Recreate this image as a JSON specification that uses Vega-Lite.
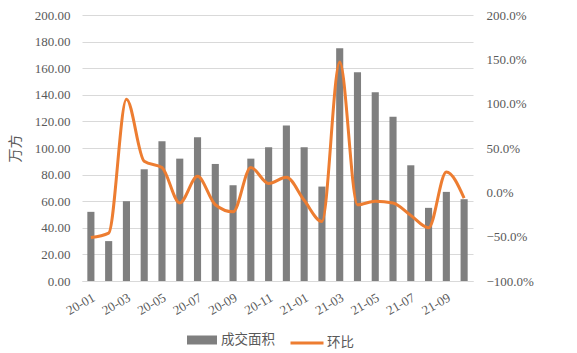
{
  "$schema": "https://vega.github.io/schema/vega-lite/v6.json",
  "width": 391,
  "height": 266,
  "autosize": {"type": "none"},
  "padding": {"left": 82, "top": 15, "right": 104, "bottom": 72},
  "background": "white",
  "config": {
    "view": {"stroke": null},
    "axis": {
      "labelFont": "Liberation Serif",
      "labelFontSize": 13,
      "labelColor": "#595959",
      "titleFont": "Noto Sans CJK SC",
      "titleFontWeight": "normal",
      "titleColor": "#595959",
      "domain": false,
      "ticks": false
    },
    "legend": {
      "labelFont": "Noto Sans CJK SC",
      "labelFontSize": 13.5,
      "labelColor": "#595959",
      "padding": 0,
      "orient": "none",
      "title": null
    }
  },
  "data": {
    "values": [
      {"month": "20-01", "area": 52, "mom": -0.51},
      {"month": "20-02", "area": 30, "mom": -0.46},
      {"month": "20-03", "area": 60, "mom": 1.05},
      {"month": "20-04", "area": 84, "mom": 0.35},
      {"month": "20-05", "area": 105, "mom": 0.28},
      {"month": "20-06", "area": 92, "mom": -0.12},
      {"month": "20-07", "area": 108, "mom": 0.18},
      {"month": "20-08", "area": 88, "mom": -0.14},
      {"month": "20-09", "area": 72, "mom": -0.22},
      {"month": "20-10", "area": 92, "mom": 0.28},
      {"month": "20-11", "area": 100.5, "mom": 0.1},
      {"month": "20-12", "area": 117, "mom": 0.17},
      {"month": "21-01", "area": 100.5, "mom": -0.09},
      {"month": "21-02", "area": 71, "mom": -0.33},
      {"month": "21-03", "area": 175, "mom": 1.47},
      {"month": "21-04", "area": 157, "mom": -0.14},
      {"month": "21-05", "area": 142, "mom": -0.1},
      {"month": "21-06", "area": 123.5, "mom": -0.12},
      {"month": "21-07", "area": 87, "mom": -0.26},
      {"month": "21-08", "area": 55, "mom": -0.4},
      {"month": "21-09", "area": 67, "mom": 0.23},
      {"month": "21-10", "area": 61.5, "mom": -0.065}
    ]
  },
  "layer": [
    {
      "mark": {"type": "bar", "color": "#7f7f7f"},
      "encoding": {
        "x": {
          "field": "month",
          "type": "ordinal",
          "sort": null,
          "scale": {"paddingInner": 0.6, "paddingOuter": 0.3},
          "axis": {
            "title": null,
            "values": ["20-01", "20-03", "20-05", "20-07", "20-09", "20-11", "21-01", "21-03", "21-05", "21-07", "21-09"],
            "labelAngle": -30,
            "labelAlign": "right",
            "labelBaseline": "top",
            "labelPadding": 10,
            "domain": true,
            "domainColor": "#d9d9d9"
          }
        },
        "y": {
          "field": "area",
          "type": "quantitative",
          "scale": {"domain": [0, 200], "nice": false},
          "axis": {
            "title": "万方",
            "titleFontSize": 14,
            "titlePadding": 12,
            "values": [0, 20, 40, 60, 80, 100, 120, 140, 160, 180, 200],
            "format": ".2f",
            "grid": true,
            "gridColor": "#d9d9d9",
            "labelPadding": 12
          }
        },
        "fill": {
          "datum": "成交面积",
          "scale": {"range": ["#7f7f7f"]},
          "legend": {
            "legendX": 105,
            "legendY": 310,
            "symbolType": "M-1,-0.3H1V0.3H-1Z",
            "symbolSize": 900,
            "symbolStrokeWidth": 0,
            "labelOffset": 4
          }
        }
      }
    },
    {
      "mark": {"type": "line", "interpolate": "monotone", "strokeWidth": 3, "color": "#ed7d31"},
      "encoding": {
        "x": {"field": "month", "type": "ordinal", "sort": null},
        "y": {
          "field": "mom",
          "type": "quantitative",
          "scale": {"domain": [-1, 2], "nice": false},
          "axis": {
            "orient": "right",
            "title": null,
            "format": ".1%",
            "values": [-1, -0.5, 0, 0.5, 1, 1.5, 2],
            "grid": false,
            "labelPadding": 13
          }
        },
        "stroke": {
          "datum": "环比",
          "scale": {"range": ["#ed7d31"]},
          "legend": {
            "legendX": 207,
            "legendY": 310,
            "symbolType": "stroke",
            "symbolSize": 1089,
            "symbolStrokeWidth": 3,
            "labelOffset": 2
          }
        }
      }
    }
  ],
  "resolve": {"scale": {"y": "independent", "fill": "independent", "stroke": "independent"}}
}
